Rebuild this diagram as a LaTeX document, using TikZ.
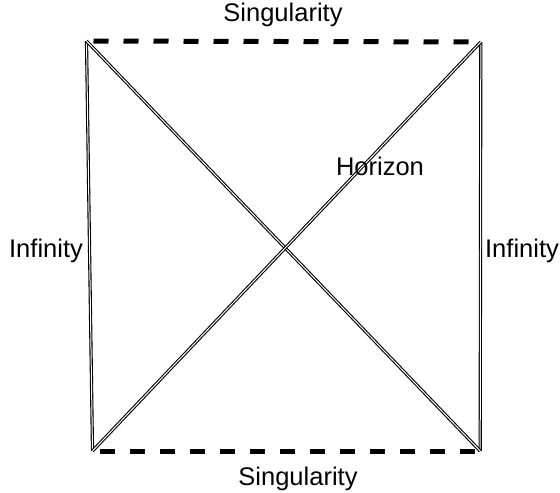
\documentclass[tikz,border=0pt]{standalone}
\usepackage{fontspec}
\setmainfont{Liberation Sans}
\begin{document}
\begin{tikzpicture}[x=1pt,y=-1pt]
  \tikzset{horizon/.style={draw,double,line width=1.1pt,double distance=1pt},
    sing/.style={line width=5pt,dash pattern=on 15pt off 15pt,dash phase=23pt},
    lbl/.style={font=\fontsize{25.5}{30}\selectfont,inner sep=0pt,anchor=base}}
  \useasboundingbox (0,0) rectangle (560,493);
  % corners of the diagram
  \coordinate (tl) at (86.5,41);
  \coordinate (tr) at (480.8,42);
  \coordinate (bl) at (92.5,451);
  \coordinate (br) at (480.2,451);
  % singularities
  \draw[sing] (tl) -- (tr);
  \draw[sing] (bl) -- (br);
  % infinity and horizons
  \draw[horizon] (tl) -- (bl);
  \draw[horizon] (tr) -- (br);
  \draw[horizon] (tl) -- (br);
  \draw[horizon] (bl) -- (tr);
  \node[lbl] (singtop) at (283,21) {Singularity};
  \node[lbl] (singbot) at (298,485) {Singularity};
  \node[lbl] (infleft) at (46,257) {Infinity};
  \node[lbl] (infright) at (522,257) {Infinity};
  \node[lbl] (hor) at (380,175) {Horizon};
\end{tikzpicture}
\end{document}
